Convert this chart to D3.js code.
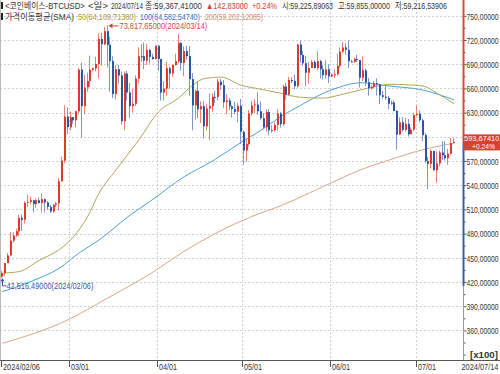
<!DOCTYPE html>
<html><head><meta charset="utf-8">
<script src="https://cdn.jsdelivr.net/npm/d3@7"></script>
<style>
html,body{margin:0;padding:0;background:#fff;}
svg{display:block;}
text{font-family:"Liberation Sans","Noto Sans CJK KR",sans-serif;}
</style></head><body>
<svg id="c" width="500" height="374"></svg>
<script>
// ---- data ----
const firstDay = "2024-02-06";
const lastDay = "2024-07-14";
const opens = [42660,43090,44340,45290,47130,47770,48290,49960,49720,51830,51930,52140,51660,52130,51780,52270,51850,51310,50740,51570,
51730,54480,57050,62500,61170,62440,62040,63170,68330,63800,66110,66930,68300,68490,69020,72120,71480,73100,71400,69400,
65300,68390,67610,61930,67840,65500,63800,64100,67200,69990,69980,69450,70750,69900,69640,71300,69650,65480,65970,68500,
67840,68900,69360,71620,69150,70630,70000,67150,63900,65700,63400,63800,61300,63500,63800,64950,64940,66840,66400,64300,
64500,63780,63440,63100,63850,60630,58300,59100,62900,63880,64000,63160,62300,61190,63080,60800,60830,61470,62900,61560,
66230,65230,67040,66930,66270,71450,70140,69120,67940,68530,69280,68510,69390,68370,67630,68360,67490,67710,67750,68800,
70560,71080,70790,69350,69300,69650,69510,67320,68240,66760,66010,66190,66640,66490,65150,64960,64830,64100,64250,63200,
60280,61800,60860,61610,60320,60900,62700,62850,62050,60200,57000,56650,58240,55850,56710,58050,57720,57340,57900,59226];
const highs = [43400,44380,45600,48200,48150,48580,50350,50380,52000,52830,52580,52190,52380,52500,52960,52370,52030,51550,51680,51950,
54890,57550,63910,63660,63170,62460,63230,68530,69200,67660,67960,70080,68600,69900,72800,72900,73650,73818,72400,70000,
68900,68900,68100,68100,68200,66650,65950,67600,71100,71500,71700,71500,70900,70300,71300,71300,69650,66900,69300,68700,
69000,70300,72750,71750,71200,71280,71250,67900,65850,66900,64400,64450,64100,65400,65400,65650,67200,67200,67050,65300,
64800,63900,64350,64200,64700,60800,59600,63300,64500,64650,65500,64400,62950,63400,63450,61450,61800,63450,63100,66450,
66700,67450,67400,67700,71500,71950,70650,70050,69250,69550,69500,70600,69550,68900,69500,69000,67850,68400,70250,71050,
71750,71600,71950,69550,69850,70150,69550,69950,68450,67300,66400,66900,67250,66550,65700,66450,65050,64500,64500,63350,
62400,62450,62350,62200,61200,63000,63850,63300,62250,60500,57500,58450,58250,58200,58300,59450,59450,58500,59850,59855];
const lows = [42516,42770,44330,45240,46880,47560,47700,48330,49270,51330,51600,50650,51190,51730,50610,50630,50950,50540,50600,51300,
50900,54440,56700,60380,60790,61600,61140,62800,59900,62800,65600,66200,68100,68100,67200,68800,71330,68600,65600,64800,
64600,66600,61500,60800,64500,62300,63000,63800,66600,69300,68400,68900,69100,69550,69600,68200,64500,64500,65100,66000,
67450,68800,69100,68200,67500,69600,65100,60800,62100,62300,61700,59800,60800,59600,63100,64200,64500,65800,63600,62800,
63300,62400,62800,61800,59100,56550,56900,58800,62600,62900,62700,62100,60900,60650,60200,60500,60650,60750,61150,61350,
64600,65100,66650,65900,66100,69200,68800,66300,66600,68500,68450,68250,67250,67100,67150,66650,67400,67300,67600,68550,
70400,70150,68500,69200,69150,69250,66100,66900,66300,65100,65850,66050,65100,64050,64700,64550,63400,63950,63200,58400,
60250,60650,60650,60050,60300,60700,62500,61800,59450,56800,53500,56050,55800,54300,56300,57150,57050,56550,57750,59217];
const closes = [43090,44340,45290,47130,47770,48290,49960,49720,51830,51930,52140,51660,52130,51780,52270,51850,51310,50740,51570,51730,
54480,57050,62500,61200,62440,62040,63170,68330,63800,66110,66930,68300,68490,69020,72120,71480,73100,71400,69400,65300,
68390,67610,61930,67840,65500,63800,64100,67200,69990,69980,69450,70750,69900,69640,71300,69650,65480,65970,68500,67840,
68900,69360,71620,69150,70630,70000,67150,63900,65700,63400,63800,61300,63500,63800,64950,64940,66840,66400,64300,64500,
63780,63440,63100,63850,60630,58300,59100,62900,63880,64000,63160,62300,61190,63080,60800,60830,61470,62900,61560,66230,
65230,67040,66930,66270,71450,70140,69120,67940,68530,69280,68510,69390,68370,67630,68360,67490,67710,67750,68800,70560,
71080,70790,69350,69300,69650,69510,67320,68240,66760,66010,66190,66640,66490,65150,64960,64830,64100,64250,63200,60280,
61800,60860,61610,60320,60900,62700,62850,62050,60200,57000,56650,58240,55850,56710,58050,57720,57340,57900,59225,59367];
// moving averages: [day index, value]
const sma50 = [[0,43100],[6,43300],[13,44700],[20,46000],[25,47600],[30,50100],[34,53000],[40,55900],[48,59600],[55,63100],[62,64800],[67,66400],[71,67200],[77,67400],[84,66400],[91,65900],[98,65400],[105,64900],[113,64800],[119,65200],[126,65800],[131,66200],[137,66500],[148,66300],[153,65400],[159,64110]];
const sma100 = [[0,40800],[11,42200],[20,43700],[27,45600],[34,47200],[45,50300],[52,52000],[64,55050],[74,57000],[84,59300],[91,60800],[98,62500],[105,63900],[113,65400],[119,66200],[126,66700],[136,66300],[148,65800],[159,64580]];
const sma200 = [[0,34400],[23,37300],[37,40000],[52,43000],[64,45800],[76,48200],[87,50000],[99,51600],[114,54000],[126,55900],[136,57100],[148,58400],[159,59200]];
const yTickValues = [36000,39000,42000,45000,48000,51000,54000,57000,60000,63000,66000,69000,72000,75000];
const xTickDates = ["2024-02-06","2024-03-01","2024-04-01","2024-05-01","2024-06-01","2024-07-01"];
const xTickLabels = ["2024/02/06","03/01","04/01","05/01","06/01","07/01"];
const headerParts = [
  {t:"<코인베이스-BTCUSD>", x:5, w:80, c:"#333"},
  {t:"<일>", x:88, w:20, c:"#333"},
  {t:"2024/07/14", x:111, w:32, c:"#333"},
  {t:"종:59,367,41000", x:145, w:57, c:"#333"},
  {t:"▲142,83000", x:206, w:42, c:"#d03a30"},
  {t:"+0.24%", x:252, w:25, c:"#d03a30"},
  {t:"시:59,225,89063", x:282, w:51, c:"#333"},
  {t:"고:59,855,00000", x:338, w:52, c:"#333"},
  {t:"저:59,216,53906", x:395, w:52, c:"#333"}
];
const legendParts = [
  {t:"가격이동평균(SMA)", x:5, w:69, c:"#333"},
  {t:"50(64,109,71380)", x:78, w:58, c:"#a8a030"},
  {t:"100(64,582,54740)", x:140, w:60, c:"#3a70c0"},
  {t:"200(59,202,12085)", x:205, w:58, c:"#d08a6a"}
];
const highLabel = "73,817,65000(2024/03/14)";
const lowLabel = "42,516,49000(2024/02/06)";
const lastLabel = ["593,67410","+0.24%"];

// ---- drawing ----
const svg = d3.select("#c");
const parse = d3.utcParse("%Y-%m-%d");
const d0 = parse(firstDay), d1 = d3.utcDay.offset(parse(lastDay), 1);
const dates = d3.utcDay.range(d0, d1);
const n = dates.length;
const x = d3.scaleUtc().domain([d0, d1]).range([1, 455.4]);
const step = x(dates[1]) - x(dates[0]);
const cx = i => x(dates[i]) + step / 2;
const y = d3.scaleLinear().domain([36000, 72000]).range([330.4, 40]);
const axisX = 463.5, plotBottom = 360;
// condense a text horizontally to a target width (keeps its box honest)
function squeeze(sel, w, ox, oy, sy) {
  sel.each(function() {
    const len = this.getComputedTextLength();
    const s = len > 0 ? Math.min(1.2, w / len) : 1;
    d3.select(this).attr("x", 0).attr("y", 0).attr("transform", `translate(${ox},${oy}) scale(${s},${sy || 1})`);
  });
  return sel;
}
function label(parent, t, x0, y0, w, attrs, sy) {
  const el = parent.append("text").text(t);
  Object.entries(attrs || {}).forEach(([k, v]) => el.attr(k, v));
  return squeeze(el, w, x0, y0, sy);
}

// grid
const gGrid = svg.append("g");
gGrid.selectAll("line.h").data(yTickValues).join("line")
  .attr("x1", 0).attr("x2", axisX).attr("y1", d => Math.round(y(d)) + 0.5).attr("y2", d => Math.round(y(d)) + 0.5)
  .attr("stroke", "#cfcfcf").attr("stroke-dasharray", "2,2");
gGrid.selectAll("line.v").data(xTickDates.slice(1).map(parse)).join("line")
  .attr("x1", d => Math.round(x(d)) + 0.5).attr("x2", d => Math.round(x(d)) + 0.5)
  .attr("y1", 0).attr("y2", plotBottom)
  .attr("stroke", "#cfcfcf").attr("stroke-dasharray", "2,2");

// left border
svg.append("line").attr("x1", 0.5).attr("x2", 0.5).attr("y1", 0).attr("y2", plotBottom).attr("stroke", "#bbb");

// moving averages
const line = d3.line().x(d => cx(d[0])).y(d => y(d[1])).curve(d3.curveMonotoneX);
[[sma200, "#d9a68a"], [sma100, "#4d9fd6"], [sma50, "#aca858"]].forEach(([data, col]) => {
  svg.append("path").datum(data).attr("d", line).attr("fill", "none").attr("stroke", col).attr("stroke-width", 1);
});

// candles
const idx = d3.range(n);
const up = i => closes[i] >= opens[i];
const gC = svg.append("g");
gC.selectAll("line").data(idx).join("line")
  .attr("x1", i => Math.round(cx(i)) - 0.5).attr("x2", i => Math.round(cx(i)) - 0.5)
  .attr("y1", i => y(highs[i])).attr("y2", i => y(lows[i]))
  .attr("stroke", i => up(i) ? "#e88078" : "#7f94c8").attr("stroke-width", 1);
gC.selectAll("rect").data(idx).join("rect")
  .attr("x", i => Math.round(cx(i)) - 1).attr("width", 2)
  .attr("y", i => y(Math.max(opens[i], closes[i])))
  .attr("height", i => Math.max(1, Math.abs(y(opens[i]) - y(closes[i]))))
  .attr("fill", i => up(i) ? "#e0382c" : "#2b56a6");

// high annotation
const hi = d3.maxIndex(highs), lo = d3.minIndex(lows);
const hx = cx(hi) + 1, hy = y(highs[hi]) + 0.5;
svg.append("line").attr("x1", hx + 1).attr("x2", hx + 10).attr("y1", hy).attr("y2", hy).attr("stroke", "#d04040");
svg.append("path").attr("d", `M${hx},${hy}l4,-2.5v5z`).attr("fill", "#d04040");
label(svg, highLabel, hx + 11, hy + 3, 88, {"font-size": 9, fill: "#c84a40"});
// low annotation
const lx = Math.round(cx(lo)) + 0.5, ly = y(lows[lo]);
svg.append("path").attr("d", `M${lx},${ly + 1}V${ly + 8}H${lx + 4}`).attr("fill", "none").attr("stroke", "#3050a0");
svg.append("path").attr("d", `M${lx},${ly + 0.5}l-2,3h4z`).attr("fill", "#3050a0");
label(svg, lowLabel, lx + 4, ly + 11, 87, {"font-size": 9, fill: "#3a55a0"});

// right axis
const gY = svg.append("g").attr("transform", `translate(${axisX},0)`)
  .call(d3.axisRight(y).tickValues(yTickValues).tickSize(3).tickPadding(0)
    .tickFormat(v => v === 60000 ? "" : (v / 100) + ",00000"));
gY.select(".domain").remove();
gY.selectAll("line").attr("stroke", "#555");
gY.selectAll("text").attr("font-size", 9).attr("fill", "#333").attr("dy", null);
squeeze(gY.selectAll("text"), 32, 3, 3.2);
const minor = d3.range(34500, 75000, 3000).concat([33000]);
const gY2 = svg.append("g").attr("transform", `translate(${axisX},0)`)
  .call(d3.axisRight(y).tickValues(minor).tickSize(2).tickFormat(""));
gY2.select(".domain").remove();
gY2.selectAll("line").attr("stroke", "#555");
label(svg, "[x100]", 470, y(33000) + 3.2, 28, {"font-size": 9, "font-weight": "bold", fill: "#333", "font-family": "'Liberation Serif',serif"});
// colored axis line
const lastY = y(closes[n - 1]);
svg.append("line").attr("x1", axisX).attr("x2", axisX).attr("y1", 0).attr("y2", plotBottom).attr("stroke", "#999");
svg.append("line").attr("x1", axisX).attr("x2", axisX).attr("y1", 0).attr("y2", lastY).attr("stroke", "#d04a3a").attr("stroke-width", 2);
svg.append("line").attr("x1", axisX).attr("x2", axisX).attr("y1", lastY).attr("y2", ly + 8).attr("stroke", "#3a5fa8").attr("stroke-width", 2);
// last price box
svg.append("rect").attr("x", axisX - 0.5).attr("y", lastY - 7.5).attr("width", 500 - axisX + 0.5).attr("height", 16).attr("fill", "#d8402f");
label(svg, lastLabel[0], 464, lastY - 0.8, 35.5, {"font-size": 8.5, fill: "#fff"}, 0.78);
label(svg, lastLabel[1], 472, lastY + 7.2, 23, {"font-size": 8.5, fill: "#fff"}, 0.78);

// bottom axis
const gX = svg.append("g").attr("transform", `translate(0,${plotBottom})`)
  .call(d3.axisBottom(x).tickValues(xTickDates.map(parse)).tickSize(7).tickPadding(2)
    .tickFormat((d, i) => xTickLabels[i]));
gX.select(".domain").remove();
gX.selectAll(".tick").attr("transform", d => `translate(${Math.round(x(d)) + 0.5},0)`);
gX.selectAll("line").attr("stroke", "#555");
gX.selectAll("text").attr("text-anchor", "start").attr("font-size", 9).attr("fill", "#333").attr("dy", null)
  .each(function(d, i) { squeeze(d3.select(this), i === 0 ? 37 : 18, 1.5, 9.5); });
svg.append("line").attr("x1", 0).attr("x2", 500).attr("y1", plotBottom + 0.5).attr("y2", plotBottom + 0.5).attr("stroke", "#555").attr("stroke-width", 1.2);
label(svg, d3.utcFormat("%Y/%m/%d")(parse(lastDay)), 461.5, plotBottom + 9.5, 37, {"font-size": 9, fill: "#333"});

// header
headerParts.forEach(p => label(svg, p.t, p.x, 9, p.w, {"font-size": 9, fill: p.c}));
legendParts.forEach(p => label(svg, p.t, p.x, 20, p.w, {"font-size": 9, fill: p.c}));
svg.append("rect").attr("x", 1).attr("y", 2).attr("width", 2).attr("height", 7).attr("fill", "#222");
svg.append("rect").attr("x", 1).attr("y", 13).attr("width", 2).attr("height", 7).attr("fill", "#222");
</script>
</body></html>
